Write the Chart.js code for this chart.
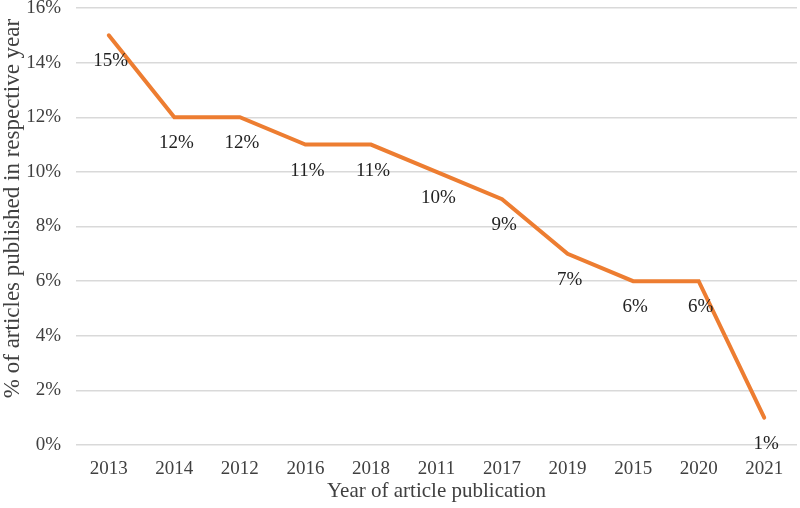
<!DOCTYPE html>
<html>
<head>
<meta charset="utf-8">
<script src="https://cdn.jsdelivr.net/npm/chart.js@4.4.1/dist/chart.umd.min.js"></script>
<style>
  html, body { margin: 0; padding: 0; background: #fff; }
  #wrap { width: 800px; height: 508px; }
</style>
</head>
<body>
<div id="wrap"><canvas id="chart" width="800" height="508"></canvas></div>
<script>
// dados do gráfico
const years = ['2013', '2014', '2012', '2016', '2018', '2011', '2017', '2019', '2015', '2020', '2021'];
const shares = [15, 12, 12, 11, 11, 10, 9, 7, 6, 6, 1];
const yTicks = [0, 2, 4, 6, 8, 10, 12, 14, 16];
const yTitle = '% of articles published in respective year';

const serif = "'Liberation Serif', 'Times New Roman', serif";

// rótulos de dados abaixo de cada ponto + título do eixo Y
const pointLabels = {
    id: 'pointLabels',
    afterDatasetsDraw(chart) {
        const c = chart.ctx;
        const meta = chart.getDatasetMeta(0);
        c.save();
        c.font = '19px ' + serif;
        c.fillStyle = '#222';
        c.textAlign = 'center';
        c.textBaseline = 'middle';
        meta.data.forEach((pt, i) => {
            c.fillText(shares[i] + '%', pt.x + 2, pt.y + 26);
        });
        // título do eixo Y, um pouco acima do centro como no original
        c.translate(13, chart.chartArea.top + (chart.chartArea.bottom - chart.chartArea.top) / 2 - 18);
        c.rotate(-Math.PI / 2);
        c.font = '23px ' + serif;
        c.fillStyle = '#404040';
        c.fillText(yTitle, 0, 0);
        c.restore();
    }
};

new Chart(document.getElementById('chart'), {
    type: 'line',
    data: {
        labels: years,
        datasets: [{
            data: shares,
            borderColor: '#ED7D31',
            borderWidth: 4,
            pointRadius: 0,
            tension: 0,
            borderCapStyle: 'round',
            borderJoinStyle: 'miter'
        }]
    },
    options: {
        responsive: false,
        animation: false,
        layout: { padding: { top: 8, right: 3, left: 0, bottom: 0 } },
        plugins: {
            legend: { display: false },
            tooltip: { enabled: false }
        },
        scales: {
            x: {
                offset: true,
                grid: { display: false },
                border: { display: false },
                ticks: { color: '#404040', font: { family: serif, size: 19 }, padding: 5 },
                title: {
                    display: true,
                    text: 'Year of article publication',
                    color: '#404040',
                    font: { family: serif, size: 21 },
                    padding: { top: 6 }
                },
                afterFit: s => { s.height = 63; s.paddingLeft = 0; s.paddingRight = 0; }
            },
            y: {
                min: 0,
                max: 16,
                afterBuildTicks: s => { s.ticks = yTicks.map(v => ({ value: v })); },
                grid: { color: '#d9d9d9', lineWidth: 1.5, drawTicks: false },
                border: { display: false },
                ticks: {
                    color: '#404040',
                    font: { family: serif, size: 19 },
                    padding: 15,
                    callback: v => v + '%'
                },
                afterFit: s => { s.width = 76; s.paddingTop = 0; s.paddingBottom = 0; }
            }
        }
    },
    plugins: [pointLabels]
});
</script>
</body>
</html>
